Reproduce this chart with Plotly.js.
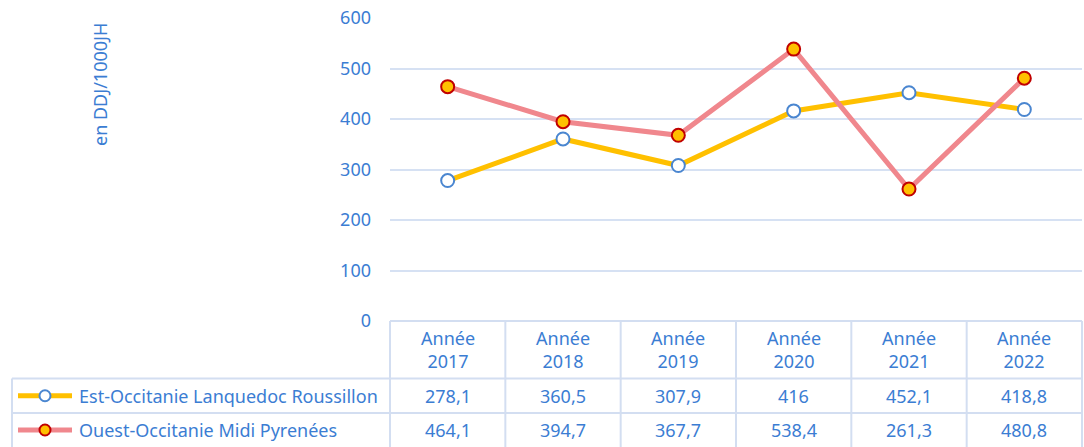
<!DOCTYPE html>
<html>
<head>
<meta charset="utf-8">
<script src="https://cdn.plot.ly/plotly-3.0.1.min.js"></script>
<style>html,body{margin:0;padding:0;background:#fff;}#chart{width:1084px;height:447px;}</style>
</head>
<body>
<div id="chart"></div>
<script>
// ---- data ----
const years = ['2017', '2018', '2019', '2020', '2021', '2022'];
const categories = years.map(y => 'Année ' + y);
const seriesNames = ['Est-Occitanie Lanquedoc Roussillon', 'Ouest-Occitanie Midi Pyrenées'];
const estValues = [278.1, 360.5, 307.9, 416, 452.1, 418.8];
const ouestValues = [464.1, 394.7, 367.7, 538.4, 261.3, 480.8];
const yTicks = [0, 100, 200, 300, 400, 500, 600];
const yTitle = 'en DDJ/1000JH';

// ---- layout geometry ----
const W = 1084, H = 447;
const M = {l: 390, r: 2, t: 18, b: 126};
const plotW = W - M.l - M.r, plotH = H - M.t - M.b;
const px = p => (p - M.l) / plotW;          // pixel x -> paper
const py = p => (H - M.b - p) / plotH;      // pixel y -> paper

const txtColor = '#3B7DD3';
const gridColor = '#D6E1F3';
const borderColor = '#D3DEF1';
const yellow = '#FFC000';
const pink = '#F0878D';
const blueMk = '#4A86D0';
const redMk = '#C00000';
const FONT = 'Noto Sans, Open Sans, sans-serif';

const rowTop = H - M.b;      // 321
const rowH1 = 378.5;
const rowH2 = 413;
const rowBottom = 447;
const leftEdge = 12;

const fmt = v => String(v).replace('.', ',');

const traces = [
  {x: categories, y: estValues, type: 'scatter', mode: 'lines+markers', name: seriesNames[0],
   line: {color: yellow, width: 5}, marker: {size: 13, color: '#FFFFFF', line: {color: blueMk, width: 2}},
   cliponaxis: false, showlegend: false},
  {x: categories, y: ouestValues, type: 'scatter', mode: 'lines+markers', name: seriesNames[1],
   line: {color: pink, width: 5}, marker: {size: 13, color: yellow, line: {color: redMk, width: 2}},
   cliponaxis: false, showlegend: false}
];

const shapes = [];
const annotations = [];
const lineStyle = {color: borderColor, width: 2};

// table horizontal lines
shapes.push({type: 'line', xref: 'paper', yref: 'paper', x0: 0, x1: 1, y0: py(rowTop), y1: py(rowTop), line: lineStyle});
[rowH1, rowH2].forEach(r => shapes.push({type: 'line', xref: 'paper', yref: 'paper', x0: px(leftEdge), x1: 1, y0: py(r), y1: py(r), line: lineStyle}));
// table vertical lines
for (let k = 0; k <= categories.length; k++) {
  shapes.push({type: 'line', xref: 'x domain', yref: 'paper', x0: k / categories.length, x1: k / categories.length,
    y0: py(rowTop), y1: py(rowBottom), line: lineStyle});
}
shapes.push({type: 'line', xref: 'paper', yref: 'paper', x0: px(leftEdge), x1: px(leftEdge), y0: py(rowH1), y1: py(rowBottom), line: lineStyle});

// header & values
const tfont = {family: FONT, size: 18, color: txtColor};
categories.forEach((c, i) => {
  annotations.push({xref: 'x', yref: 'paper', x: c, y: py((rowTop + rowH1) / 2), text: 'Année<br>' + years[i],
    showarrow: false, font: tfont, xanchor: 'center', yanchor: 'middle'});
  annotations.push({xref: 'x', yref: 'paper', x: c, y: py((rowH1 + rowH2) / 2), text: fmt(estValues[i]),
    showarrow: false, font: tfont, xanchor: 'center', yanchor: 'middle'});
  annotations.push({xref: 'x', yref: 'paper', x: c, y: py((rowH2 + rowBottom) / 2), text: fmt(ouestValues[i]),
    showarrow: false, font: tfont, xanchor: 'center', yanchor: 'middle'});
});

// legend keys in table
const legendRows = [
  {c: (rowH1 + rowH2) / 2, line: yellow, fill: '#FFFFFF', edge: blueMk, name: seriesNames[0]},
  {c: (rowH2 + rowBottom) / 2, line: pink, fill: yellow, edge: redMk, name: seriesNames[1]}
];
legendRows.forEach(r => {
  shapes.push({type: 'line', xref: 'paper', yref: 'paper', x0: px(18), x1: px(72), y0: py(r.c), y1: py(r.c),
    line: {color: r.line, width: 5}});
  shapes.push({type: 'circle', xref: 'paper', yref: 'paper', xsizemode: 'pixel', ysizemode: 'pixel',
    xanchor: px(45), yanchor: py(r.c), x0: -5.5, x1: 5.5, y0: -5.5, y1: 5.5,
    fillcolor: r.fill, line: {color: r.edge, width: 2}});
  annotations.push({xref: 'paper', yref: 'paper', x: px(77), y: py(r.c), text: r.name, showarrow: false,
    xanchor: 'left', yanchor: 'middle', font: {family: FONT, size: 18, color: txtColor}});
});

// y axis title
annotations.push({xref: 'paper', yref: 'paper', x: px(100), y: py(85), text: yTitle, textangle: -90,
  showarrow: false, xanchor: 'center', yanchor: 'middle', font: {family: FONT, size: 18, color: txtColor}});

const layout = {
  width: W, height: H,
  margin: M,
  paper_bgcolor: '#FFFFFF', plot_bgcolor: '#FFFFFF',
  showlegend: false,
  font: {family: FONT, color: txtColor},
  xaxis: {type: 'category', categoryorder: 'array', categoryarray: categories, range: [-0.5, categories.length - 0.5],
    showticklabels: false, showgrid: false, zeroline: false, showline: false, ticks: ''},
  yaxis: {range: [0, 600], tickvals: yTicks, ticktext: yTicks.map(String), showgrid: true, gridcolor: gridColor, gridwidth: 2,
    zeroline: false, showline: false, ticks: '', ticklabelstandoff: 18,
    tickfont: {family: FONT, size: 18, color: txtColor}},
  shapes: shapes,
  annotations: annotations
};

Plotly.newPlot('chart', traces, layout, {displayModeBar: false, staticPlot: true});
</script>
</body>
</html>
